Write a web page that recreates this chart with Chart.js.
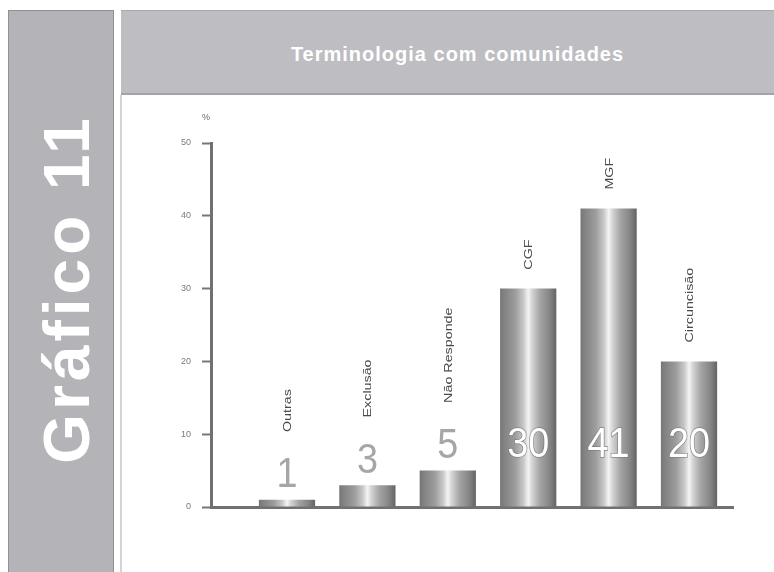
<!DOCTYPE html>
<html lang="pt">
<head>
<meta charset="utf-8">
<title>Gráfico 11 – Terminologia com comunidades</title>
<script src="https://cdn.jsdelivr.net/npm/chart.js@4.4.1/dist/chart.umd.min.js"></script>
<style>
  html, body { margin: 0; padding: 0; background: #ffffff; }
  body { width: 774px; height: 572px; position: relative; overflow: hidden; font-family: "Liberation Sans", Arial, sans-serif; }
  #lateral {
    position: absolute; left: 8px; top: 10px; width: 106px; height: 570px;
    background: #b3b3b8; border: 1px solid #8f8f94; box-sizing: border-box;
  }
  #lateral span {
    position: absolute; left: 58px; top: 278px;
    transform: translate(-50%, -50%) rotate(-90deg);
    white-space: nowrap; color: #ffffff; font-weight: bold; font-size: 64px;
    letter-spacing: 4px;
  }
  #cabecalho {
    position: absolute; left: 121px; top: 10px; width: 653px; height: 85px;
    background: #bdbdc2; border-top: 1px solid #a8a8ad; border-bottom: 2px solid #a2a2a7; box-sizing: border-box;
    padding-left: 20px;
    color: #ffffff; font-weight: bold; font-size: 20px; letter-spacing: 1px;
    text-align: center; line-height: 86px;
  }
  #divisor { position: absolute; left: 120px; top: 95px; width: 2px; height: 477px; background: #d4d4d8; }
  #grafico { position: absolute; left: 122px; top: 95px; width: 652px; height: 477px; }
</style>
</head>
<body>
<div id="lateral"><span>Gráfico 11</span></div>
<div id="cabecalho">Terminologia com comunidades</div>
<div id="divisor"></div>
<div id="grafico"><canvas id="c" width="652" height="477"></canvas></div>
<script>
// Respostas (%) por termo usado com as comunidades
const categorias = ['Outras', 'Exclusão', 'Não Responde', 'CGF', 'MGF', 'Circuncisão'];
const percentagens = [1, 3, 5, 30, 41, 20];
const ticksY = [0, 10, 20, 30, 40, 50];
const unidade = '%';

const FONTE = '"Liberation Sans", Arial, sans-serif';
const LARGURA_BARRA = 0.74;

// Metallic cylinder shading across each bar
function sombraBarra(c) {
  const chart = c.chart;
  const xs = chart.scales && chart.scales.x;
  if (!xs || c.type !== 'data') return '#9a9a9a';
  const passo = xs.getPixelForValue(1) - xs.getPixelForValue(0);
  const cx = xs.getPixelForValue(c.dataIndex);
  const meia = passo * LARGURA_BARRA / 2;
  if (!isFinite(cx) || !isFinite(meia) || meia <= 0) return '#9a9a9a';
  const g = chart.ctx.createLinearGradient(cx - meia, 0, cx + meia, 0);
  g.addColorStop(0.00, '#6f6f6f');
  g.addColorStop(0.08, '#808080');
  g.addColorStop(0.28, '#9c9c9c');
  g.addColorStop(0.42, '#c8c8c8');
  g.addColorStop(0.50, '#f4f4f4');
  g.addColorStop(0.57, '#d2d2d2');
  g.addColorStop(0.70, '#a4a4a4');
  g.addColorStop(0.86, '#858585');
  g.addColorStop(0.95, '#6a6a6a');
  g.addColorStop(1.00, '#5c5c5c');
  return g;
}

// Value numbers and vertical category names above the bars
const rotulos = {
  id: 'rotulos',
  afterDatasetsDraw(chart) {
    const { ctx, scales: { x, y } } = chart;
    ctx.save();
    percentagens.forEach((v, i) => {
      const px = x.getPixelForValue(i);
      const dentro = v + 3.3 > 8.5;
      const centroNum = Math.min(v + 3.3, 8.5);
      // value number
      ctx.save();
      ctx.translate(px, y.getPixelForValue(centroNum));
      ctx.scale(0.9, 1);
      ctx.font = '42px ' + FONTE;
      ctx.textAlign = 'center';
      ctx.textBaseline = 'middle';
      if (dentro) {
        ctx.lineWidth = 1.5;
        ctx.strokeStyle = 'rgba(120,120,120,0.8)';
        ctx.strokeText(String(v), 0, 0);
        ctx.fillStyle = '#ffffff';
      } else {
        ctx.fillStyle = '#a6a6a6';
      }
      ctx.fillText(String(v), 0, 0);
      ctx.restore();
      // category name, rotated
      const base = dentro ? v + 2.6 : centroNum + 6;
      ctx.save();
      ctx.translate(px + 1, y.getPixelForValue(base));
      ctx.rotate(-Math.PI / 2);
      ctx.scale(1.3, 1);
      ctx.font = '11px ' + FONTE;
      ctx.fillStyle = '#4a4a4a';
      ctx.textAlign = 'left';
      ctx.textBaseline = 'middle';
      ctx.fillText(categorias[i], 0, 0);
      ctx.restore();
    });
    // unit above the value axis
    ctx.font = '9px ' + FONTE;
    ctx.fillStyle = '#666666';
    ctx.textAlign = 'center';
    ctx.textBaseline = 'middle';
    ctx.fillText(unidade, x.left - 5, y.top - 25);
    ctx.restore();
  }
};

new Chart(document.getElementById('c'), {
  type: 'bar',
  data: {
    datasets: [{
      label: 'Terminologia com comunidades',
      data: percentagens.map((v, i) => ({ x: i, y: v })),
      backgroundColor: sombraBarra,
      borderWidth: 0,
      barPercentage: LARGURA_BARRA,
      categoryPercentage: 1
    }]
  },
  options: {
    responsive: false,
    animation: false,
    events: [],
    layout: { padding: { left: 0, right: 41, top: 48, bottom: 0 } },
    plugins: { legend: { display: false }, tooltip: { enabled: false }, title: { display: false } },
    scales: {
      x: {
        type: 'linear',
        offset: false,
        min: -0.945,
        max: 5.547,
        ticks: { display: false },
        grid: { display: false, offset: false },
        border: { display: true, color: '#717171', width: 3 },
        afterFit: s => { s.height = 65; }
      },
      y: {
        type: 'linear',
        min: 0,
        max: 50,
        afterBuildTicks: s => { s.ticks = ticksY.map(v => ({ value: v })); },
        ticks: {
          color: '#7a7a7a',
          font: { family: FONTE, size: 9 },
          padding: 11
        },
        grid: {
          drawOnChartArea: false,
          drawTicks: true,
          tickLength: 9,
          tickWidth: 2,
          tickColor: '#777777'
        },
        border: { display: true, color: '#717171', width: 3 },
        afterFit: s => { s.width = 89; }
      }
    }
  },
  plugins: [rotulos]
});
</script>
</body>
</html>
